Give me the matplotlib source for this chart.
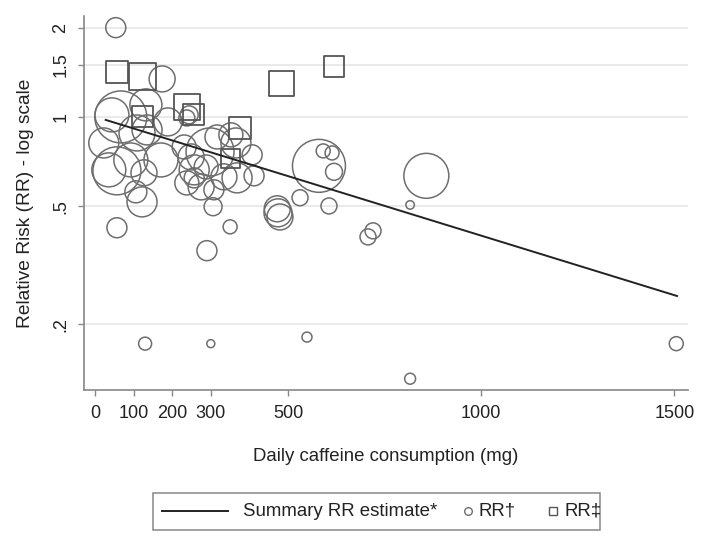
import numpy as np
import matplotlib
matplotlib.use('Agg')
import matplotlib.pyplot as plt
from matplotlib.lines import Line2D
from matplotlib.patches import Rectangle

plt.rcParams['font.family'] = ['Liberation Sans', 'DejaVu Sans']

# 연구별 RR (원, RR†): 카페인(mg), RR, 가중치
rr1_dose = [54, 130, 300, 549, 816, 1505, 858, 816, 707, 720,
            580, 591, 614, 619, 531, 606, 474, 479, 472, 407,
            412, 57, 290, 350, 306, 174, 67, 44, 132, 23,
            36, 57, 109, 135, 93, 127, 171, 122, 106, 244,
            238, 298, 316, 352, 365, 368, 334, 257, 249, 275,
            238, 257, 308, 231, 288, 189]
rr1_val = [2.0, 0.172, 0.172, 0.181, 0.131, 0.172, 0.633, 0.505, 0.394, 0.413,
           0.684, 0.768, 0.756, 0.653, 0.534, 0.501, 0.475, 0.460, 0.490, 0.745,
           0.633, 0.423, 0.354, 0.426, 0.498, 1.343, 1.0, 1.016, 1.098, 0.817,
           0.663, 0.658, 0.883, 0.904, 0.716, 0.648, 0.716, 0.517, 0.559, 1.016,
           0.992, 0.762, 0.856, 0.870, 0.817, 0.623, 0.628, 0.663, 0.733, 0.581,
           0.599, 0.623, 0.568, 0.792, 0.678, 0.962]
rr1_w = [100, 42, 16, 25, 30, 49, 506, 18, 64, 64,
         702, 49, 49, 72, 64, 64, 196, 169, 169, 100,
         100, 100, 100, 49, 81, 169, 676, 289, 256, 225,
         289, 576, 324, 225, 289, 169, 289, 225, 121, 81,
         64, 576, 144, 144, 225, 225, 169, 225, 169, 169,
         144, 100, 100, 144, 144, 196]

# RR‡ (사각형)
rr2_dose = [57, 124, 238, 254, 122, 376, 352, 482, 619]
rr2_val = [1.42, 1.37, 1.08, 1.02, 1.0, 0.918, 0.722, 1.30, 1.48]
rr2_w = [121, 182, 169, 110, 110, 121, 90, 156, 110]

# summary RR 추정선
sum_dose = [28, 1507]
sum_rr = [0.977, 0.249]

xticks = [0, 100, 200, 300, 500, 1000, 1500]
yticks = [0.2, 0.5, 1, 1.5, 2]
ylabels = ['.2', '.5', '1', '1.5', '2']
leg_labels = ['Summary RR estimate*', 'RR†', 'RR‡']

gray = '#6e6e6e'
txt = '#222222'
W, H = 711, 539
fig = plt.figure(figsize=(W / 100, H / 100), dpi=100)
ax = fig.add_axes([0.118, 0.2764, 0.850, 0.694])

k = 2.07
ax.scatter(rr1_dose, rr1_val, s=np.array(rr1_w) * k, facecolors='none',
           edgecolors=gray, linewidths=1.1, zorder=3)
ax.scatter(rr2_dose, rr2_val, s=np.array(rr2_w) * k, marker='s', facecolors='none',
           edgecolors='#555555', linewidths=1.3, zorder=3)
ax.plot(sum_dose, sum_rr, color=txt, lw=1.4, zorder=4)

ax.set_yscale('log')
ax.set_xlim(-28.5, 1536)
ax.set_ylim(0.120, 2.19)
ax.set_yticks(yticks)
ax.set_yticklabels(ylabels, rotation=90, va='center', ha='right')
ax.yaxis.set_minor_locator(matplotlib.ticker.NullLocator())
ax.set_xticks(xticks)
ax.tick_params(axis='both', length=4.5, width=1, color='#888888', pad=6,
               labelsize=13, labelcolor=txt)
ax.grid(axis='y', color='#e4e4e4', lw=1.1, zorder=0)
ax.set_axisbelow(True)
for s in ['top', 'right']:
    ax.spines[s].set_visible(False)
for s in ['left', 'bottom']:
    ax.spines[s].set_color('#888888')
    ax.spines[s].set_linewidth(1.2)

ax.set_xlabel('Daily caffeine consumption (mg)', fontsize=13.4, color=txt, labelpad=19)
ax.set_ylabel('Relative Risk (RR) - log scale', fontsize=13.8, color=txt, labelpad=13)

# 범례 (Stata 스타일, 직접 배치)
def fx(p):
    return p / W

def fy(p):
    return 1 - p / H

yc = 511
fig.add_artist(Rectangle((fx(153), fy(530)), fx(600) - fx(153), fy(493) - fy(530),
                         transform=fig.transFigure, fill=False, ec='#888888', lw=1.1))
fig.add_artist(Line2D([fx(162), fx(228)], [fy(yc), fy(yc)], color=txt, lw=1.4,
                      transform=fig.transFigure))
fig.text(fx(243), fy(yc), leg_labels[0], fontsize=13.4, color=txt, va='center')
fig.add_artist(Line2D([fx(468)], [fy(yc)], marker='o', ms=5.5, mfc='none', mec=gray,
                      mew=1.0, transform=fig.transFigure))
fig.text(fx(478), fy(yc), leg_labels[1], fontsize=13.4, color=txt, va='center')
fig.add_artist(Line2D([fx(553)], [fy(yc)], marker='s', ms=5.5, mfc='none', mec='#555555',
                      mew=1.0, transform=fig.transFigure))
fig.text(fx(564), fy(yc), leg_labels[2], fontsize=13.4, color=txt, va='center')

fig.savefig('out.png', dpi=100)
